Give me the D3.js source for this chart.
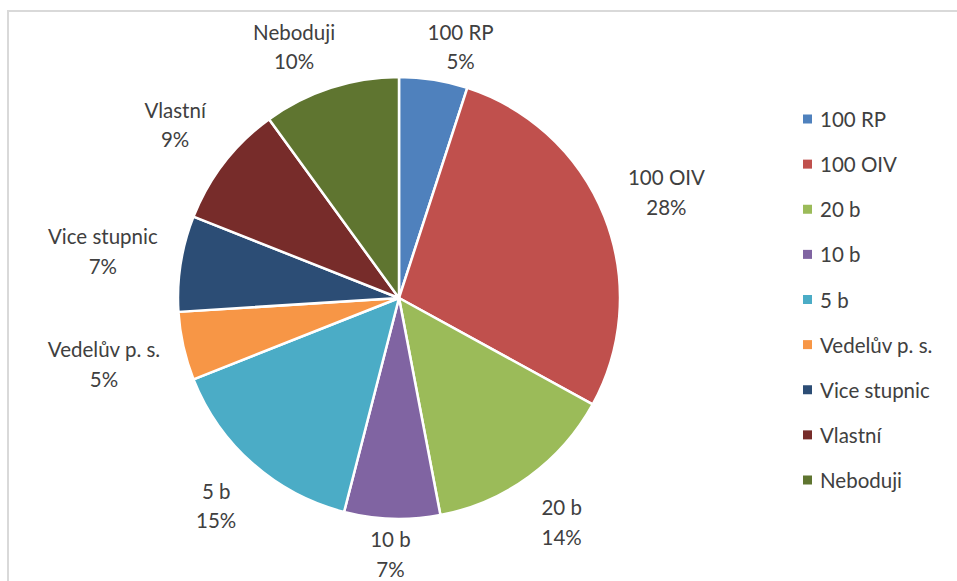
<!DOCTYPE html>
<html>
<head>
<meta charset="utf-8">
<script src="https://cdn.jsdelivr.net/npm/d3@7"></script>
<style>
  html, body { margin: 0; padding: 0; background: #fff; }
  svg { display: block; }
  text { font-family: Lato, "Open Sans", sans-serif; fill: #404040; }
</style>
</head>
<body>
<svg id="chart" width="957" height="581"></svg>
<script>
// Slice categories, shares (%) and slice colours
const categories = ["100 RP", "100 OIV", "20 b", "10 b", "5 b", "Vedelův p. s.", "Vice stupnic", "Vlastní", "Neboduji"];
const shares = [5, 28, 14, 7, 15, 5, 7, 9, 10];
const colors = ["#4F81BD", "#C0504D", "#9BBB59", "#8064A2", "#4BACC6", "#F79646", "#2C4D75", "#772C2A", "#5F7530"];

const W = 957, H = 581;
const cx = 399, cy = 298, r = 221;
const fontSize = 20.5, lineH = 29.5, gap = 20;
const chartTop = 11;

const svg = d3.select("#chart");

// chart area frame (top and left edges visible)
svg.append("rect")
  .attr("x", 8).attr("y", 11)
  .attr("width", W + 20).attr("height", H + 20)
  .attr("fill", "none")
  .attr("stroke", "#d9d9d9")
  .attr("stroke-width", 2);

const data = categories.map((c, i) => ({ name: c, value: shares[i], color: colors[i] }));

const pie = d3.pie().value(d => d.value).sort(null);
const arcs = pie(data);
const arc = d3.arc().innerRadius(0).outerRadius(r);

const g = svg.append("g").attr("transform", `translate(${cx},${cy})`);

g.selectAll("path.slice")
  .data(arcs)
  .join("path")
  .attr("class", "slice")
  .attr("d", arc)
  .attr("fill", d => d.data.color)
  .attr("stroke", "#fff")
  .attr("stroke-width", 2.5)
  .attr("stroke-linejoin", "round");

// data labels: name + percentage, placed outside the slice end
const labels = svg.append("g");
arcs.forEach(d => {
  const t = labels.append("text")
    .attr("text-anchor", "middle")
    .style("font-size", fontSize + "px");
  const l1 = t.append("tspan").attr("x", 0).text(d.data.name);
  const l2 = t.append("tspan").attr("x", 0).text(d.data.value + "%");
  const w = Math.max(l1.node().getComputedTextLength(), l2.node().getComputedTextLength());
  const h = 2 * lineH;

  const a = (d.startAngle + d.endAngle) / 2;
  const s = Math.sin(a), c = Math.cos(a);
  const dist = r + gap + Math.abs(s) * w * 0.5 + Math.abs(c) * h / 2;
  let x = cx + dist * s;
  let y = cy - dist * c;

  // keep the label inside the chart area; when pushed down from the top,
  // slide it so its inner bottom corner sits on the slice's mid ray
  const minY = chartTop + 6 + h / 2;
  const maxY = H - 27;
  if (y < minY) {
    y = minY;
    const bottom = y + h / 2;
    const rayX = cx + (cy - bottom) * Math.tan(a);
    x = rayX + Math.sign(s) * w * 0.4;
  }
  if (y > maxY) y = maxY;

  t.attr("transform", `translate(${x},${y})`);
  l1.attr("y", -lineH / 2).attr("dominant-baseline", "central");
  l2.attr("y", lineH / 2).attr("dominant-baseline", "central");
});

// legend
const legendY = d3.scalePoint().domain(categories).range([119, 480]);
const legend = svg.append("g");
const items = legend.selectAll("g.item")
  .data(data)
  .join("g")
  .attr("class", "item")
  .attr("transform", d => `translate(803,${legendY(d.name)})`);
items.append("rect")
  .attr("x", 0).attr("y", -4.5)
  .attr("width", 9).attr("height", 9)
  .attr("fill", d => d.color);
items.append("text")
  .attr("x", 17)
  .attr("dominant-baseline", "central")
  .style("font-size", fontSize + "px")
  .text(d => d.name);
</script>
</body>
</html>
